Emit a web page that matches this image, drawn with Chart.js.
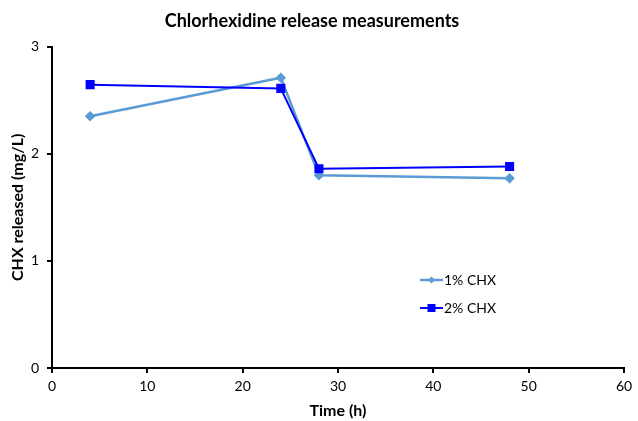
<!DOCTYPE html>
<html>
<head>
<meta charset="utf-8">
<script src="https://cdn.jsdelivr.net/npm/chart.js@4"></script>
<style>
  html, body { margin: 0; padding: 0; background: #fff; }
  #wrap { width: 638px; height: 421px; }
</style>
</head>
<body>
<div id="wrap"><canvas id="chart"></canvas></div>
<script>
// values
const times = [4, 24, 28, 48];
const chx1 = [2.35, 2.71, 1.80, 1.77];
const chx2 = [2.645, 2.61, 1.86, 1.88];
const seriesNames = ["1% CHX", "2% CHX"];
const xTicks = [0, 10, 20, 30, 40, 50, 60];
const yTicks = [0, 1, 2, 3];

const FONT = "Lato, 'Open Sans', sans-serif";

// draws the legend inside the plot, like the original
const insideLegend = {
  id: "insideLegend",
  afterDraw(chart) {
    const ctx = chart.ctx;
    const rows = [
      { ds: chart.data.datasets[0], y: 280 },
      { ds: chart.data.datasets[1], y: 308 },
    ];
    ctx.save();
    rows.forEach(({ ds, y }) => {
      const x0 = 420, x1 = 443;
      ctx.strokeStyle = ds.borderColor;
      ctx.lineWidth = ds.borderWidth;
      ctx.beginPath();
      ctx.moveTo(x0, y);
      ctx.lineTo(x1, y);
      ctx.stroke();
      const cx = (x0 + x1) / 2;
      ctx.fillStyle = ds.pointBackgroundColor;
      if (ds.pointStyle === "rect") {
        const r = 4;
        ctx.fillRect(cx - r, y - r, 2 * r, 2 * r);
      } else {
        const r = 3.5;
        ctx.beginPath();
        ctx.moveTo(cx, y - r);
        ctx.lineTo(cx + r, y);
        ctx.lineTo(cx, y + r);
        ctx.lineTo(cx - r, y);
        ctx.closePath();
        ctx.fill();
      }
      ctx.fillStyle = "#000";
      ctx.font = "14px " + FONT;
      ctx.textBaseline = "middle";
      ctx.fillText(ds.label, x1 + 1, y);
    });
    ctx.restore();
  },
};

new Chart(document.getElementById("chart"), {
  type: "line",
  data: {
    datasets: [
      {
        label: seriesNames[0],
        data: times.map((t, i) => ({ x: t, y: chx1[i] })),
        borderColor: "#5b9bd5",
        backgroundColor: "#5b9bd5",
        pointBackgroundColor: "#5b9bd5",
        pointBorderColor: "#5b9bd5",
        borderWidth: 2.5,
        pointStyle: "rectRot",
        pointRadius: 3.5,
        tension: 0,
        order: 1,
      },
      {
        label: seriesNames[1],
        data: times.map((t, i) => ({ x: t, y: chx2[i] })),
        borderColor: "#0000ff",
        backgroundColor: "#0000ff",
        pointBackgroundColor: "#0000ff",
        pointBorderColor: "#0000ff",
        borderWidth: 2,
        pointStyle: "rect",
        pointRadius: 5,
        tension: 0,
        order: 0,
      },
    ],
  },
  options: {
    responsive: true,
    maintainAspectRatio: false,
    animation: false,
    layout: { padding: { left: 0, right: 14, top: 0, bottom: 0 } },
    plugins: {
      legend: { display: false },
      tooltip: { enabled: false },
      title: {
        display: true,
        text: "Chlorhexidine release measurements",
        color: "#000",
        font: { family: FONT, size: 18, weight: "bold" },
        padding: { top: 10, bottom: 15 },
      },
    },
    scales: {
      x: {
        type: "linear",
        min: 0,
        max: 60,
        afterBuildTicks: (s) => { s.ticks = xTicks.map((v) => ({ value: v })); },
        afterFit: (s) => { s.height = 53; },
        border: { color: "#000", width: 2 },
        grid: { drawOnChartArea: false, drawTicks: true, tickLength: 5, color: "#000", lineWidth: 2 },
        ticks: { color: "#000", font: { family: FONT, size: 14 }, padding: 5, maxRotation: 0 },
        title: {
          display: true,
          text: "Time (h)",
          color: "#000",
          font: { family: FONT, size: 16, weight: "bold" },
          padding: { top: 0, bottom: 1 },
        },
      },
      y: {
        min: 0,
        max: 3,
        afterBuildTicks: (s) => { s.ticks = yTicks.map((v) => ({ value: v })); },
        afterFit: (s) => { s.width = 52; },
        border: { color: "#000", width: 2 },
        grid: { drawOnChartArea: false, drawTicks: true, tickLength: 5, color: "#000", lineWidth: 2 },
        ticks: { color: "#000", font: { family: FONT, size: 14 }, padding: 8 },
        title: {
          display: true,
          text: "CHX released (mg/L)",
          color: "#000",
          font: { family: FONT, size: 16, weight: "bold" },
          padding: { top: 8, bottom: 0 },
        },
      },
    },
  },
  plugins: [insideLegend],
});
</script>
</body>
</html>
